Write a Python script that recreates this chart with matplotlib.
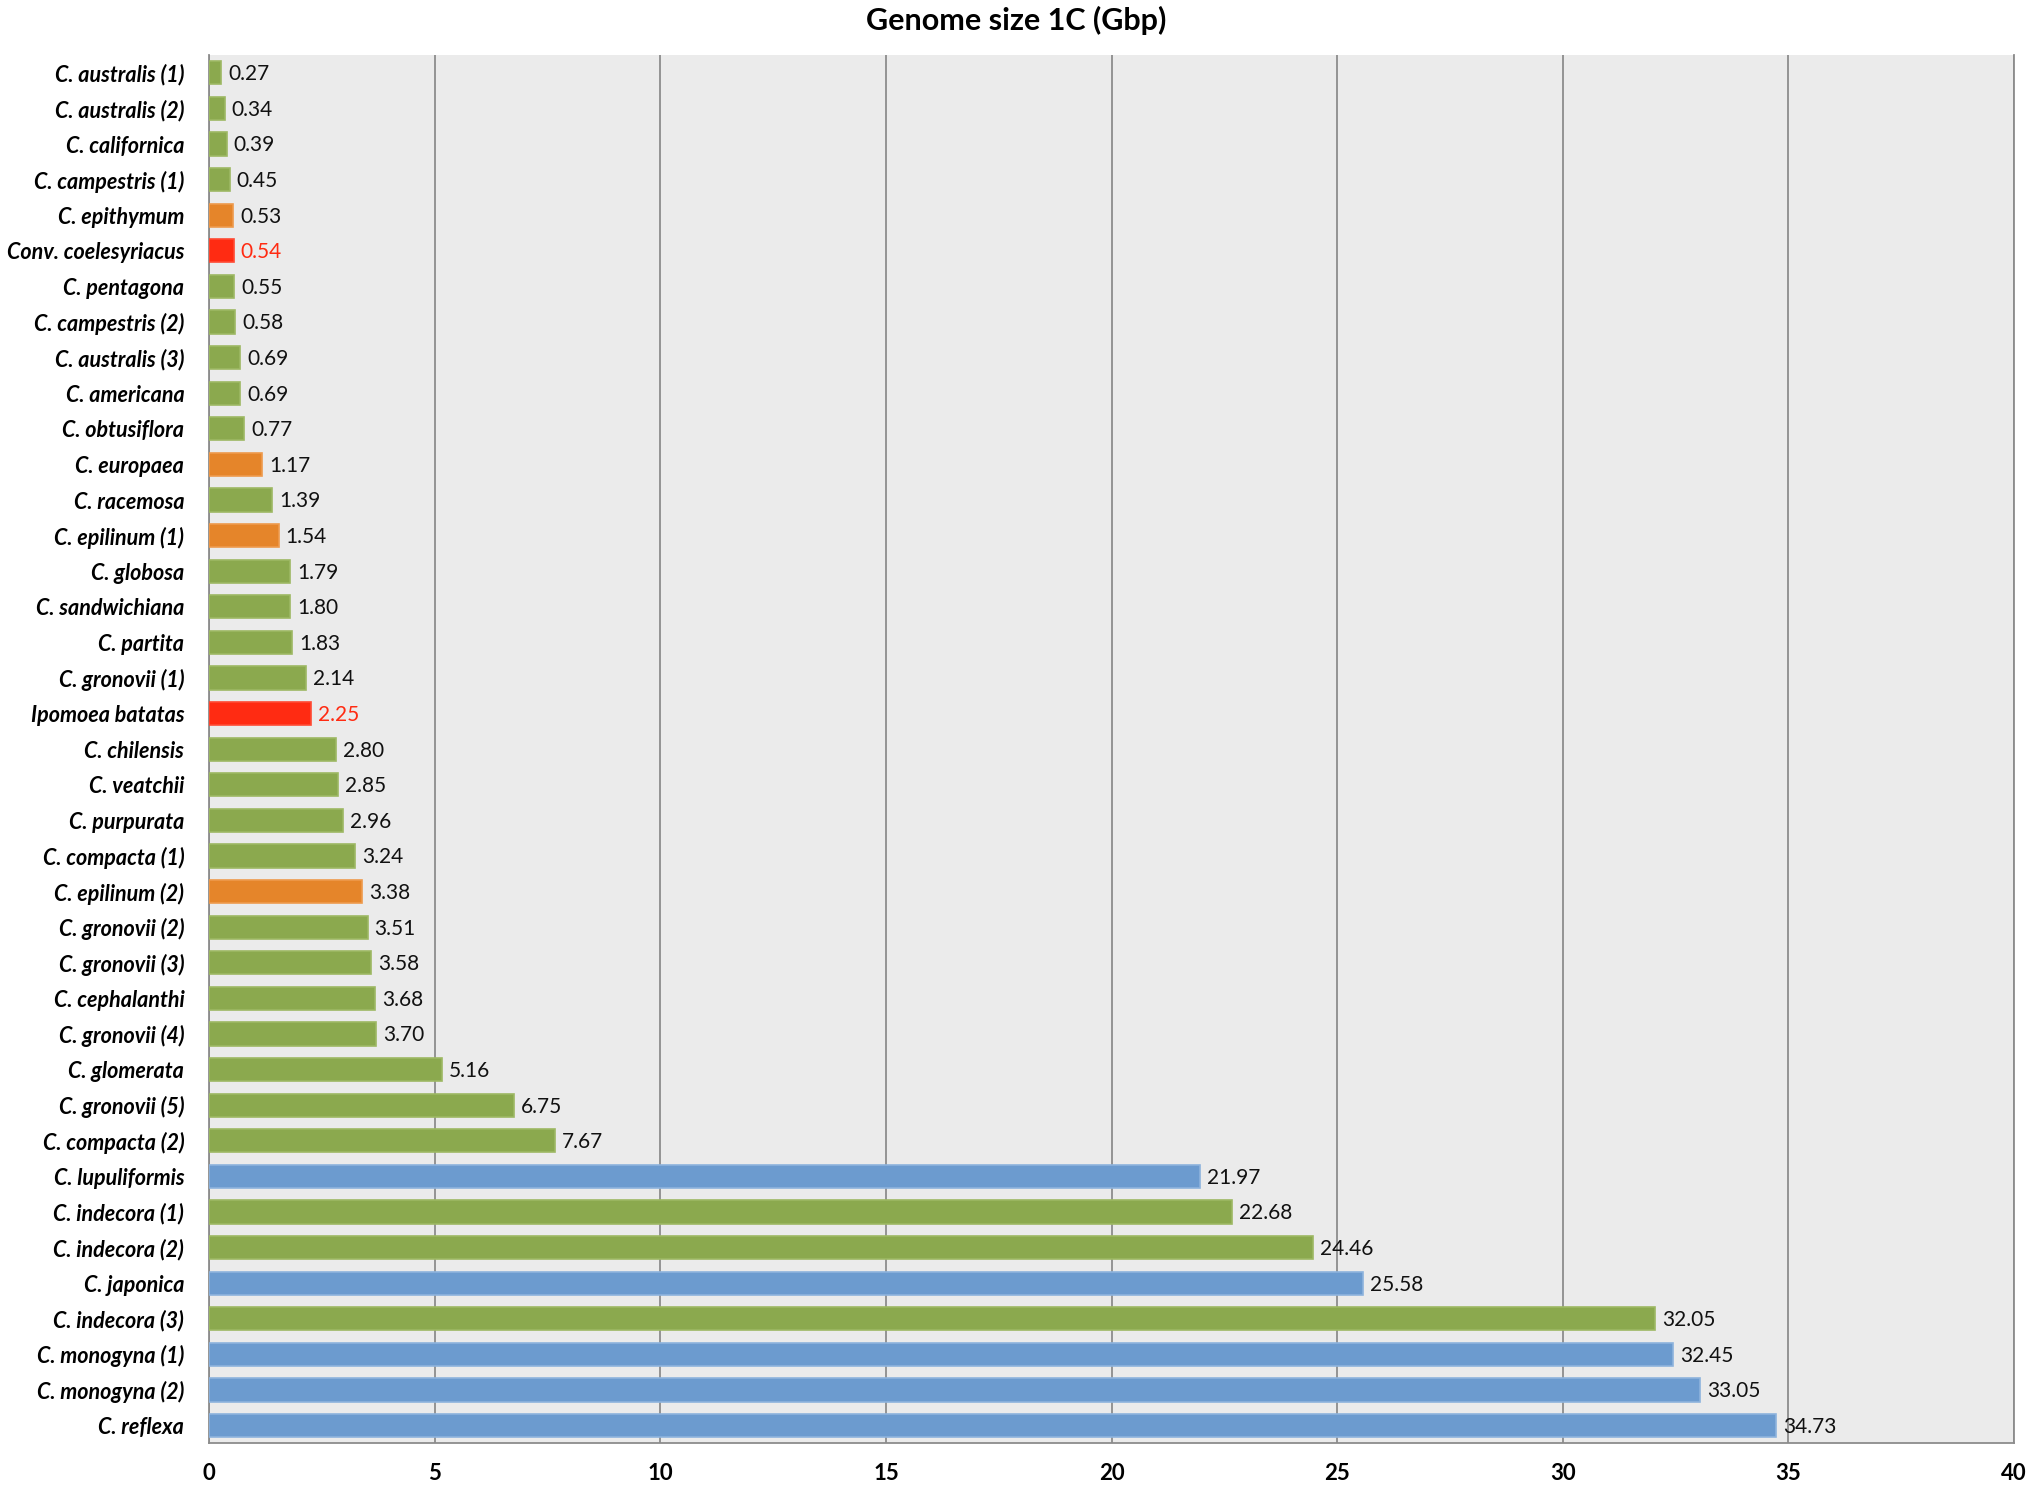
import matplotlib
matplotlib.use("Agg")
import matplotlib.pyplot as plt

# espèces de haut en bas, taille du génome 1C (Gbp) et groupe de couleur
species = ["C. australis (1)", "C. australis (2)", "C. californica", "C. campestris (1)",
           "C. epithymum", "Conv. coelesyriacus", "C. pentagona", "C. campestris (2)",
           "C. australis (3)", "C. americana", "C. obtusiflora", "C. europaea",
           "C. racemosa", "C. epilinum (1)", "C. globosa", "C. sandwichiana",
           "C. partita", "C. gronovii (1)", "Ipomoea batatas", "C. chilensis",
           "C. veatchii", "C. purpurata", "C. compacta (1)", "C. epilinum (2)",
           "C. gronovii (2)", "C. gronovii (3)", "C. cephalanthi", "C. gronovii (4)",
           "C. glomerata", "C. gronovii (5)", "C. compacta (2)", "C. lupuliformis",
           "C. indecora (1)", "C. indecora (2)", "C. japonica", "C. indecora (3)",
           "C. monogyna (1)", "C. monogyna (2)", "C. reflexa"]
sizes = [0.27, 0.34, 0.39, 0.45, 0.53, 0.54, 0.55, 0.58, 0.69, 0.69, 0.77, 1.17,
         1.39, 1.54, 1.79, 1.80, 1.83, 2.14, 2.25, 2.80, 2.85, 2.96, 3.24, 3.38,
         3.51, 3.58, 3.68, 3.70, 5.16, 6.75, 7.67, 21.97, 22.68, 24.46, 25.58,
         32.05, 32.45, 33.05, 34.73]
groups = ["g", "g", "g", "g", "o", "r", "g", "g", "g", "g", "g", "o",
          "g", "o", "g", "g", "g", "g", "r", "g", "g", "g", "g", "o",
          "g", "g", "g", "g", "g", "g", "g", "b", "g", "g", "b", "g",
          "b", "b", "b"]
xticks = [0, 5, 10, 15, 20, 25, 30, 35, 40]

palette = {"g": "#8BA94E", "o": "#E5852A", "r": "#FF2B12", "b": "#6C9BCF"}
edges = {"g": "#9DB863", "o": "#EE9A4C", "r": "#FF4A33", "b": "#8DB3DD"}

plt.rcParams["font.family"] = ["Lato", "DejaVu Sans"]

fig = plt.figure(figsize=(20.32, 14.88), dpi=100)
ax = fig.add_axes([0.103, 0.030, 0.888, 0.933])
ax.set_facecolor("#EBEBEB")

ypos = list(range(len(species)))
ax.barh(ypos, sizes, height=0.65, color=[palette[g] for g in groups],
        edgecolor=[edges[g] for g in groups], linewidth=1.2, zorder=3)

for y, v, g in zip(ypos, sizes, groups):
    ax.annotate("%.2f" % v, (v, y), xytext=(5, -1), textcoords="offset points",
                ha="left", va="center", fontsize=15,
                color="#FF2B12" if g == "r" else "#111111", zorder=4)

ax.set_ylim(len(species) - 0.5, -0.5)
ax.set_xlim(0, 40)
ax.set_yticks(ypos)
ax.set_yticklabels(species, fontsize=15.5, fontweight="bold", fontstyle="italic")
ax.set_xticks(xticks)
ax.set_xticklabels([str(t) for t in xticks], fontsize=16, fontweight="bold")
ax.tick_params(axis="both", length=0)
ax.tick_params(axis="y", pad=18)
ax.tick_params(axis="x", pad=14)

ax.grid(axis="x", color="#8C8C8C", linewidth=1.3, zorder=1)
ax.set_axisbelow(True)
for s in ["left", "bottom", "right"]:
    ax.spines[s].set_color("#8C8C8C")
    ax.spines[s].set_linewidth(1.3)
ax.spines["top"].set_visible(False)

fig.text(0.5, 0.986, "Genome size 1C (Gbp)", ha="center", va="center",
         fontsize=22, fontweight="bold")

fig.savefig("out.png", dpi=100, facecolor="white")
